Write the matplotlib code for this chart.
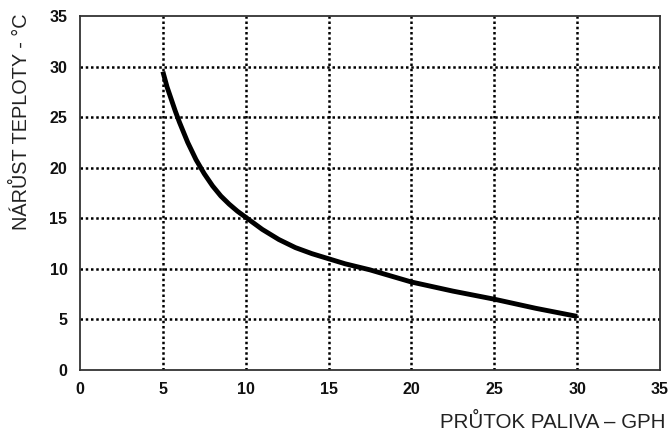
import matplotlib
matplotlib.use("Agg")
import matplotlib.pyplot as plt

# Data
flow_gph = [5, 5.25, 5.5, 5.75, 6, 6.5, 7, 7.5, 8, 8.5, 9, 9.5, 10, 11, 12, 13, 14, 15, 16, 17.5, 20, 22.5, 25, 27.5, 30]
temp_rise = [29.5, 28.0, 26.8, 25.6, 24.5, 22.5, 20.8, 19.4, 18.2, 17.2, 16.4, 15.7, 15.1, 13.9, 12.9, 12.1, 11.5, 11.0, 10.5, 9.9, 8.7, 7.8, 7.0, 6.1, 5.3]
x_ticks = [0, 5, 10, 15, 20, 25, 30, 35]
y_ticks = [0, 5, 10, 15, 20, 25, 30, 35]
x_label = "PRŮTOK PALIVA – GPH"
y_label = "NÁRŮST TEPLOTY - °C"

plt.rcParams['font.family'] = ['Liberation Sans', 'DejaVu Sans']

fig = plt.figure(figsize=(6.71, 4.32), dpi=100)
ax = fig.add_axes([80/671, 1-370/432, 580/671, 354/432])

ax.set_xlim(0, 35)
ax.set_ylim(0, 35)
ax.set_xticks(x_ticks)
ax.set_yticks(y_ticks)
ax.tick_params(length=0, labelsize=11.5, pad=9)
for lbl in ax.get_xticklabels() + ax.get_yticklabels():
    lbl.set_fontweight('bold')
    lbl.set_color('#111111')

for v in x_ticks[1:-1]:
    ax.axvline(v, color='black', lw=1.8, ls=(0, (1, 1.1)), zorder=1)
for v in y_ticks[1:-1]:
    ax.axhline(v, color='black', lw=1.8, ls=(0, (1, 1.1)), zorder=1)

for s in ax.spines.values():
    s.set_color('#333333')
    s.set_linewidth(1.3)

ax.plot(flow_gph, temp_rise, color='black', lw=3.5, solid_capstyle='butt',
        solid_joinstyle='round', zorder=3)

fig.text(21/671, 1-122/432, y_label, rotation=90, ha='center', va='center', fontsize=14.3, color='#222222')
fig.text(666/671, 1-428/432, x_label, ha='right', va='baseline', fontsize=14.8, color='#222222')

fig.savefig("out.png", dpi=100)
